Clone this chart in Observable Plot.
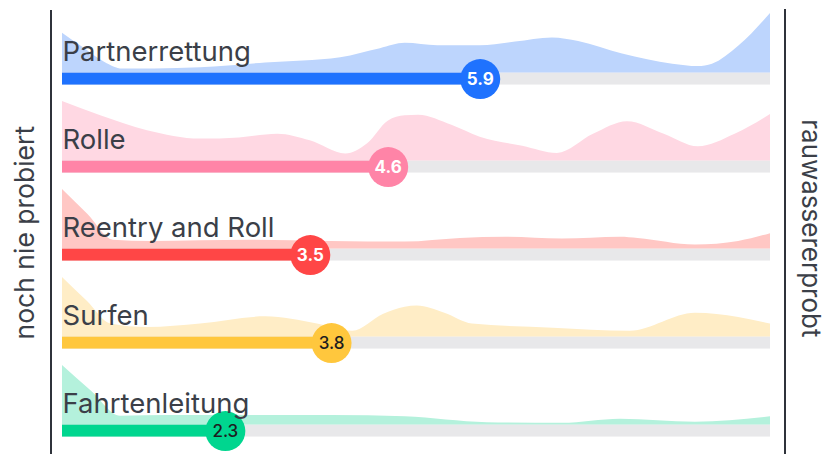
<!DOCTYPE html>
<html><head><meta charset="utf-8">
<script src="https://cdn.jsdelivr.net/npm/d3@7"></script>
<script src="https://cdn.jsdelivr.net/npm/@observablehq/plot@0.6"></script>
<style>body{margin:0;background:#fff} #chart svg{display:block}</style>
</head><body><div id="chart"></div>
<script>
// ---- data ----
const categories = ["Partnerrettung", "Rolle", "Reentry and Roll", "Surfen", "Fahrtenleitung"];
const scores = [5.9, 4.6, 3.5, 3.8, 2.3];
const xDomain = [0, 10];
const sideLabelLeft = "noch nie probiert";
const sideLabelRight = "rauwassererprobt";

// distribution shapes (x on the 0–10 scale, relative density 0–1)
const densityPartnerrettung = [[0,0.67],[0.3,0.42],[0.6,0.18],[0.85,0.07],[1.3,0.07],[1.95,0.09],[2.87,0.17],[3.93,0.26],[4.49,0.41],[4.84,0.5],[5.3,0.46],[5.9,0.46],[6.4,0.52],[6.92,0.59],[7.29,0.53],[7.91,0.32],[8.62,0.15],[8.98,0.11],[9.18,0.15],[9.55,0.45],[10,1.0]];
const densityRolle = [[0,1.0],[0.54,0.76],[1.2,0.51],[1.95,0.37],[2.5,0.39],[3.04,0.45],[3.5,0.34],[4.0,0.12],[4.31,0.29],[4.6,0.67],[4.84,0.76],[5.03,0.77],[5.5,0.6],[5.9,0.4],[6.5,0.25],[6.99,0.13],[7.5,0.45],[7.98,0.66],[8.5,0.45],[8.98,0.24],[9.5,0.45],[10,0.78]];
const densityReentry = [[0,1.0],[0.36,0.58],[0.72,0.15],[1.24,0.13],[2.66,0.15],[3.79,0.13],[4.84,0.12],[5.62,0.18],[6.26,0.2],[7.06,0.17],[7.88,0.2],[8.13,0.18],[8.94,0.07],[9.55,0.13],[10,0.26]];
const densitySurfen = [[0,1.0],[0.35,0.6],[0.68,0.22],[1.2,0.16],[1.95,0.22],[2.87,0.34],[3.6,0.22],[4.1,0.1],[4.53,0.38],[4.84,0.5],[5.01,0.52],[5.4,0.4],[5.79,0.22],[6.93,0.15],[8.02,0.1],[8.94,0.4],[9.55,0.33],[10,0.22]];
const densityFahrtenleitung = [[0,1.0],[0.41,0.57],[0.82,0.15],[1.5,0.16],[2.66,0.16],[3.8,0.16],[4.84,0.14],[6.0,0.04],[7.06,0.03],[7.88,0.1],[8.94,0.05],[10,0.14]];
const densities = [densityPartnerrettung, densityRolle, densityReentry, densitySurfen, densityFahrtenleitung];

// ---- styles ----
const barColors = ["#1f72fe", "#ff84a7", "#ff4646", "#ffc73d", "#00d68f"];
const areaColors = ["#bdd5fd", "#ffd8e3", "#ffc7c4", "#ffedc6", "#b4f1dc"];
const scoreTextColors = ["#ffffff", "#ffffff", "#ffffff", "#1d1d1f", "#1d1d1f"];
const textColor = "#3b3f48";

const rows = categories.map((cat, i) => ({cat, score: scores[i], bar: barColors[i], txt: scoreTextColors[i]}));
const areaData = categories.flatMap((cat, i) => densities[i].map(([x, v]) => ({cat, x, v, fill: areaColors[i]})));

const chart = Plot.plot({
  width: 825,
  height: 455,
  marginTop: 9,
  marginBottom: 3.5,
  marginLeft: 50,
  marginRight: 41,
  x: {domain: xDomain, insetLeft: 12, insetRight: 14, axis: null},
  y: {domain: [-0.425, 1.05], axis: null},
  fy: {domain: categories, padding: 0, axis: null},
  color: {type: "identity"},
  style: {fontFamily: "Inter, 'Noto Sans', sans-serif", background: "#fff", overflow: "visible"},
  marks: [
    Plot.areaY(areaData, {x: "x", y: "v", fy: "cat", fill: "fill", curve: "monotone-x"}),
    Plot.rect(rows, {x1: xDomain[0], x2: xDomain[1], y1: -0.2, y2: 0, fy: "cat", fill: "#e8e8ea"}),
    Plot.rect(rows, {x1: xDomain[0], x2: "score", y1: -0.2, y2: 0, fy: "cat", fill: "bar"}),
    Plot.dot(rows, {x: "score", y: -0.1, fy: "cat", r: 20, fill: "bar", stroke: null}),
    Plot.text(rows.filter(d => d.txt === "#ffffff"), {x: "score", y: -0.1, fy: "cat", text: d => d.score.toFixed(1), fill: "txt", fontSize: 17, fontWeight: 700}),
    Plot.text(rows.filter(d => d.txt !== "#ffffff"), {x: "score", y: -0.1, fy: "cat", text: d => d.score.toFixed(1), fill: "txt", fontSize: 17, fontWeight: 500}),
    Plot.text(rows, {x: xDomain[0], y: 0.2, fy: "cat", text: "cat", textAnchor: "start", lineAnchor: "bottom", fill: textColor, fontSize: 27.5}),
    Plot.ruleX([xDomain[0]], {dx: -12, stroke: "#2f333b", strokeWidth: 2, insetBottom: -3.5, shapeRendering: "crispEdges"}),
    Plot.ruleX([xDomain[1]], {dx: 14, stroke: "#2f333b", strokeWidth: 2, insetBottom: -3.5, insetTop: -1, shapeRendering: "crispEdges"}),
    Plot.text([sideLabelLeft], {text: d => d, frameAnchor: "left", dx: -25, dy: 109, rotate: -90, fill: textColor, fontSize: 26.5, facet: "super"}),
    Plot.text([sideLabelRight], {text: d => d, frameAnchor: "right", dx: 25.5, dy: 107, rotate: 90, fill: textColor, fontSize: 26, facet: "super"})
  ]
});
document.getElementById("chart").append(chart);
</script>
</body></html>
